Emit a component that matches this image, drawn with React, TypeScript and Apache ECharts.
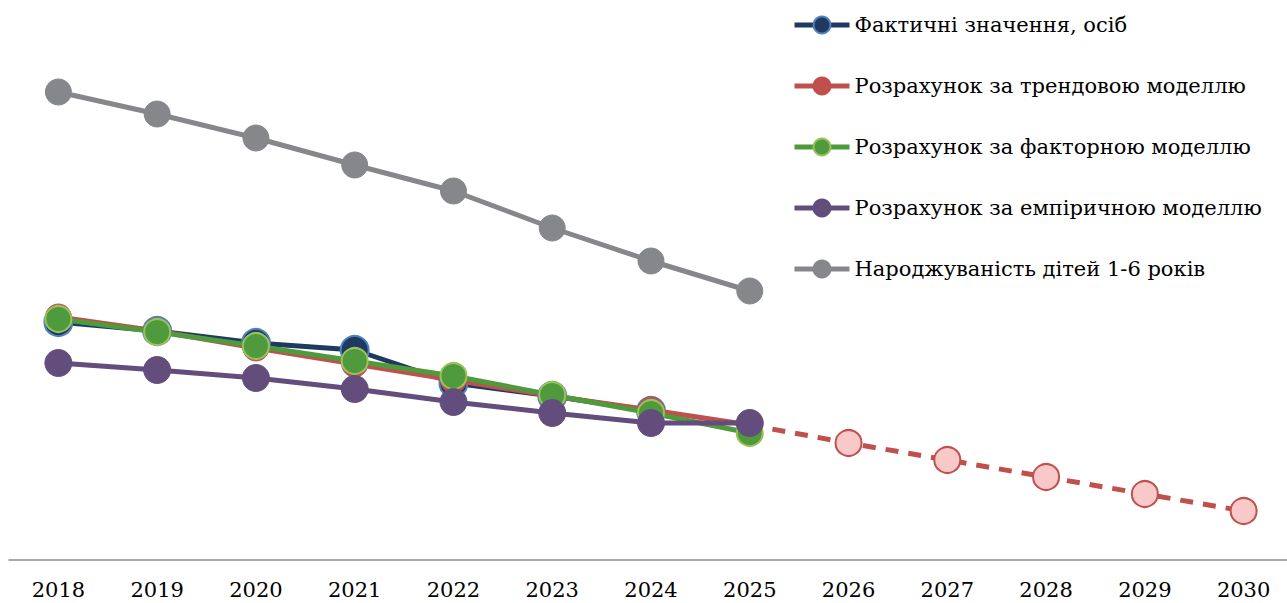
import React, { useEffect, useRef } from "react";
import * as echarts from "echarts";

const years = ["2018", "2019", "2020", "2021", "2022", "2023", "2024", "2025", "2026", "2027", "2028", "2029", "2030"];
const factValues = [238, 229, 217, 210, 177, 164, 149];
const trendValues = [243, 229, 212, 196, 180, 164, 150, 135];
const trendForecast = [null, null, null, null, null, null, null, 135, 117, 100, 83, 66, 49];
const factorValues = [241, 228, 214, 199, 184, 165, 147, 127];
const empiricValues = [197, 190, 182, 171, 158, 147, 137, 137];
const birthValues = [468, 446, 422, 395, 369, 332, 299, 269];

const names = [
  "Фактичні значення, осіб",
  "Розрахунок за трендовою моделлю",
  "Розрахунок за факторною моделлю",
  "Розрахунок за емпіричною моделлю",
  "Народжуваність дітей 1-6 років",
];

const FONT = "DejaVu Serif";

export default function App() {
  const ref = useRef<HTMLDivElement>(null);
  useEffect(() => {
    if (!ref.current) return;
    const chart = echarts.init(ref.current, null, { renderer: "svg" });
    const forecastData = trendForecast.map((v, i) =>
      i === 7 ? { value: v, symbol: "none" } : v
    );
    chart.setOption({
      animation: false,
      backgroundColor: "#ffffff",
      textStyle: { fontFamily: FONT },
      grid: { left: 9, width: 1284, top: 60, bottom: 43 },
      legend: {
        orient: "vertical",
        left: 792,
        top: 10,
        padding: 0,
        itemWidth: 55,
        itemHeight: 21,
        itemGap: 31,
        data: names,
        lineStyle: { width: 5 },
        textStyle: { fontFamily: FONT, fontSize: 21, color: "#000", lineHeight: 30 },
      },
      xAxis: {
        type: "category",
        data: years,
        boundaryGap: true,
        axisLine: { lineStyle: { color: "#8c8c8c", width: 1.5 } },
        axisTick: { length: 6, lineStyle: { color: "#8c8c8c", width: 1.5 } },
        axisLabel: { fontFamily: FONT, fontSize: 21, color: "#000", margin: 19 },
      },
      yAxis: { type: "value", min: 0, max: 500, show: false, splitLine: { show: false } },
      series: [
        {
          name: "forecast",
          type: "line",
          data: forecastData,
          symbol: "circle",
          symbolSize: 26,
          lineStyle: { color: "#C0504D", width: 5, type: [13, 10] },
          itemStyle: { color: "#F9C8C8", borderColor: "#C0504D", borderWidth: 2 },
          z: 1,
        },
        {
          name: names[0],
          type: "line",
          data: factValues,
          symbol: "circle",
          symbolSize: 28,
          lineStyle: { color: "#1F3A60", width: 5 },
          itemStyle: { color: "#1F3A60", borderColor: "#4F81BD", borderWidth: 2 },
          z: 2,
        },
        {
          name: names[1],
          type: "line",
          data: trendValues,
          symbol: "circle",
          symbolSize: 26,
          lineStyle: { color: "#C0504D", width: 5 },
          itemStyle: { color: "#C0504D", borderColor: "#C0504D", borderWidth: 1 },
          z: 3,
        },
        {
          name: names[2],
          type: "line",
          data: factorValues,
          symbol: "circle",
          symbolSize: 26,
          lineStyle: { color: "#4E9A3C", width: 5 },
          itemStyle: { color: "#4E9A3C", borderColor: "#9BC25A", borderWidth: 2 },
          z: 4,
        },
        {
          name: names[3],
          type: "line",
          data: empiricValues,
          symbol: "circle",
          symbolSize: 27,
          lineStyle: { color: "#624D7C", width: 5 },
          itemStyle: { color: "#624D7C", borderColor: "#624D7C", borderWidth: 1 },
          z: 5,
        },
        {
          name: names[4],
          type: "line",
          data: birthValues,
          symbol: "circle",
          symbolSize: 26,
          lineStyle: { color: "#86878B", width: 5 },
          itemStyle: { color: "#86878B", borderColor: "#86878B", borderWidth: 1 },
          z: 6,
        },
      ],
    });
    return () => chart.dispose();
  }, []);
  return (
    <div style={{ position: "absolute", left: 0, top: 0, width: 1287, height: 603, overflow: "hidden" }}>
      <div ref={ref} style={{ width: 1300, height: 603 }} />
    </div>
  );
}
